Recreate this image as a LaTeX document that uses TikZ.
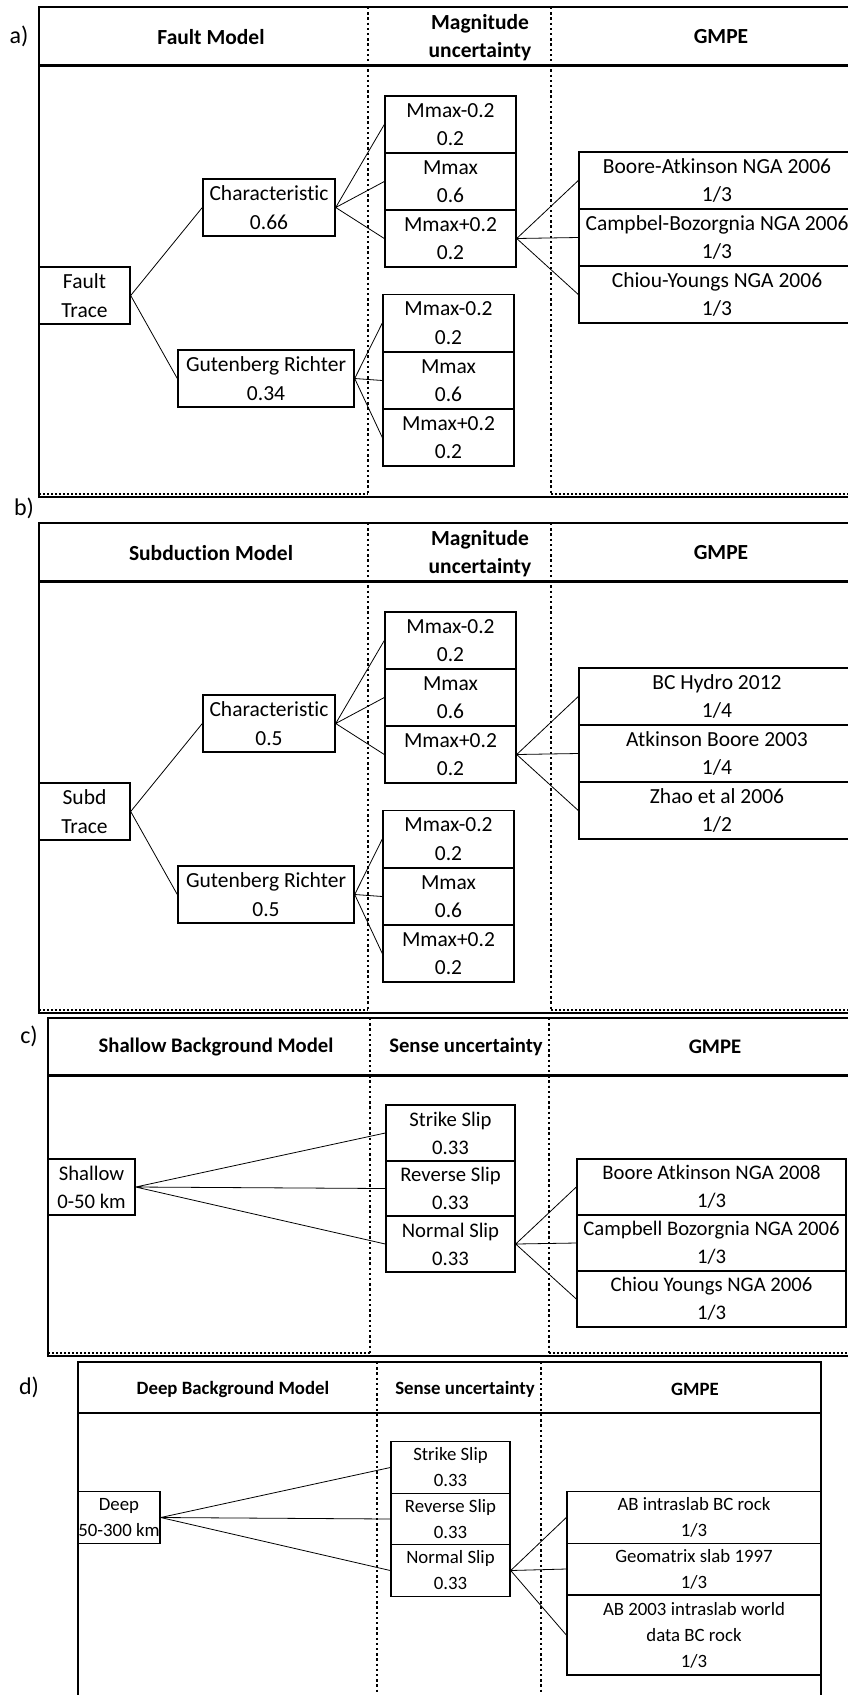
\documentclass[tikz,border=0pt]{standalone}
\usepackage{fontspec}
\setmainfont{Carlito}[Ligatures=NoCommon]

\tikzset{
	box/.style={draw, line width=1.4pt, align=center, inner sep=0pt, minimum width=#1, minimum height=57pt},
	head/.style={align=center, execute at begin node=\bfseries},
	tag/.style={font=\fontsize{24}{24}\selectfont},
	twig/.style={line width=0.8pt},
	colsep/.style={line width=2.6pt, dash pattern=on 2.4pt off 2.8pt},
	rim/.style={line width=2.2pt, dash pattern=on 2pt off 2pt}
}

\begin{document}
\begin{tikzpicture}[x=1pt, y=-1pt, font=\fontsize{21.5}{28.5}\selectfont]
		%%%%% START %%%%%
		\useasboundingbox (0,0) rectangle (848,1695);
		\clip (0,0) rectangle (848,1695);
		
		% a) fault model
		\node[tag] (labA) at (19,36) {a)};
		\draw[line width=1.3pt] (880,7) -- (39,7) -- (39,497) -- (880,497);
		\draw[line width=3pt] (39,65) -- (880,65);
		\draw[rim] (39,494) -- (368,494);
		\draw[rim] (551,494) -- (880,494);
		\draw[colsep] (368,7) -- (368,495);
		\draw[colsep] (551,7) -- (551,495);
		\node[head] (hdA1) at (211,37) {Fault Model};
		\node[head] (hdA2) at (480,37.5) {Magnitude\\uncertainty};
		\node[head] (hdA3) at (721,37) {GMPE};
		
		\node[box=91pt] (trA) at (84.5,295.5) {Fault\\Trace};
		\node[box=132pt] (chA) at (269,207.5) {Characteristic\\0.66};
		\node[box=176pt] (grA) at (266,378.5) {Gutenberg Richter\\0.34};
		\node[box=131pt] (muA1) at (450.5,124.5) {Mmax-0.2\\0.2};
		\node[box=131pt] (muA2) at (450.5,181.5) {Mmax\\0.6};
		\node[box=131pt] (muA3) at (450.5,238.5) {Mmax+0.2\\0.2};
		\node[box=131pt] (muA4) at (448.5,323) {Mmax-0.2\\0.2};
		\node[box=131pt] (muA5) at (448.5,380.5) {Mmax\\0.6};
		\node[box=131pt] (muA6) at (448.5,437.5) {Mmax+0.2\\0.2};
		\node[box=276pt] (gmpeA1) at (717,180.5) {Boore-Atkinson NGA 2006\\1/3};
		\node[box=276pt] (gmpeA2) at (717,237.5) {Campbel-Bozorgnia NGA 2006\\1/3};
		\node[box=276pt] (gmpeA3) at (717,294.5) {Chiou-Youngs NGA 2006\\1/3};
		
		\draw[twig] (trA.east) -- (chA.west) (trA.east) -- (grA.west);
		\draw[twig] (chA.east) -- (muA1.west) (chA.east) -- (muA2.west) (chA.east) -- (muA3.west);
		\draw[twig] (grA.east) -- (muA4.west) (grA.east) -- (muA5.west) (grA.east) -- (muA6.west);
		\draw[twig] (muA3.east) -- (gmpeA1.west) (muA3.east) -- (gmpeA2.west) (muA3.east) -- (gmpeA3.west);
		
		% b) subduction model, same layout one panel lower
		\node[tag] (labB) at (24,508) {b)};
		\begin{scope}[yshift=-516pt]
			\draw[line width=1.3pt] (880,7) -- (39,7) -- (39,497) -- (880,497);
			\draw[line width=3pt] (39,65) -- (880,65);
			\draw[rim] (39,494) -- (368,494);
			\draw[rim] (551,494) -- (880,494);
			\draw[colsep] (368,7) -- (368,495);
			\draw[colsep] (551,7) -- (551,495);
			\node[head] (hdB1) at (211,37) {Subduction Model};
			\node[head] (hdB2) at (480,37.5) {Magnitude\\uncertainty};
			\node[head] (hdB3) at (721,37) {GMPE};
			
			\node[box=91pt] (trB) at (84.5,295.5) {Subd\\Trace};
			\node[box=132pt] (chB) at (269,207.5) {Characteristic\\0.5};
			\node[box=176pt] (grB) at (266,378.5) {Gutenberg Richter\\0.5};
			\node[box=131pt] (muB1) at (450.5,124.5) {Mmax-0.2\\0.2};
			\node[box=131pt] (muB2) at (450.5,181.5) {Mmax\\0.6};
			\node[box=131pt] (muB3) at (450.5,238.5) {Mmax+0.2\\0.2};
			\node[box=131pt] (muB4) at (448.5,323) {Mmax-0.2\\0.2};
			\node[box=131pt] (muB5) at (448.5,380.5) {Mmax\\0.6};
			\node[box=131pt] (muB6) at (448.5,437.5) {Mmax+0.2\\0.2};
			\node[box=276pt] (gmpeB1) at (717,180.5) {BC Hydro 2012\\1/4};
			\node[box=276pt] (gmpeB2) at (717,237.5) {Atkinson Boore 2003\\1/4};
			\node[box=276pt] (gmpeB3) at (717,294.5) {Zhao et al 2006\\1/2};
			
			\draw[twig] (trB.east) -- (chB.west) (trB.east) -- (grB.west);
			\draw[twig] (chB.east) -- (muB1.west) (chB.east) -- (muB2.west) (chB.east) -- (muB3.west);
			\draw[twig] (grB.east) -- (muB4.west) (grB.east) -- (muB5.west) (grB.east) -- (muB6.west);
			\draw[twig] (muB3.east) -- (gmpeB1.west) (muB3.east) -- (gmpeB2.west) (muB3.east) -- (gmpeB3.west);
		\end{scope}
		
		% c) shallow background
		\begin{scope}[font=\fontsize{20.7}{28}\selectfont, box/.append style={minimum height=56pt}]
			\node[tag] (labC) at (29,1036) {c)};
			\draw[line width=1.3pt] (880,1018) -- (48,1018) -- (48,1356) -- (880,1356);
			\draw[line width=3pt] (48,1075) -- (880,1075);
			\draw[rim] (48,1353) -- (370,1353);
			\draw[rim] (549,1353) -- (880,1353);
			\draw[colsep] (370,1018) -- (370,1354);
			\draw[colsep] (549,1018) -- (549,1354);
			\node[head] (hdC1) at (216,1047) {Shallow Background Model};
			\node[head] (hdC2) at (466,1047) {Sense uncertainty};
			\node[head] (hdC3) at (715,1047) {GMPE};
			
			\node[box=87pt] (shC) at (91.5,1187) {Shallow\\0-50 km};
			\node[box=129pt] (snC1) at (450.5,1133) {Strike Slip\\0.33};
			\node[box=129pt] (snC2) at (450.5,1188.5) {Reverse Slip\\0.33};
			\node[box=129pt] (snC3) at (450.5,1244) {Normal Slip\\0.33};
			\node[box=269pt] (gmpeC1) at (711.5,1187) {Boore Atkinson NGA 2008\\1/3};
			\node[box=269pt] (gmpeC2) at (711.5,1243) {Campbell Bozorgnia NGA 2006\\1/3};
			\node[box=269pt] (gmpeC3) at (711.5,1299) {Chiou Youngs NGA 2006\\1/3};
			
			\draw[twig] (shC.east) -- (snC1.west) (shC.east) -- (snC2.west) (shC.east) -- (snC3.west);
			\draw[twig] (snC3.east) -- (gmpeC1.west) (snC3.east) -- (gmpeC2.west) (snC3.east) -- (gmpeC3.west);
		\end{scope}
		
		% d) deep background
		\begin{scope}[font=\fontsize{18.8}{26}\selectfont, box/.append style={minimum height=51.5pt}]
			\node[tag] (labD) at (29,1387) {d)};
			\draw[line width=1.3pt] (78,1710) -- (78,1362) -- (821,1362) -- (821,1710);
			\draw[line width=2.2pt] (78,1413) -- (821,1413);
			\draw[colsep] (377,1362) -- (377,1700);
			\draw[colsep] (541,1362) -- (541,1700);
			\node[head] (hdD1) at (233,1389) {Deep Background Model};
			\node[head] (hdD2) at (465,1389) {Sense uncertainty};
			\node[head] (hdD3) at (695,1389) {GMPE};
			
			\node[box=82pt] (dpD) at (119,1517.5) {Deep\\50-300 km};
			\node[box=119pt] (snD1) at (450.5,1467.5) {Strike Slip\\0.33};
			\node[box=119pt] (snD2) at (450.5,1519) {Reverse Slip\\0.33};
			\node[box=119pt] (snD3) at (450.5,1570.5) {Normal Slip\\0.33};
			\node[box=254pt] (gmpeD1) at (694,1517.5) {AB intraslab BC rock\\1/3};
			\node[box=254pt] (gmpeD2) at (694,1569) {Geomatrix slab 1997\\1/3};
			\node[box=254pt, minimum height=80pt] (gmpeD3) at (694,1635) {AB 2003 intraslab world\\data BC rock\\1/3};
			
			\draw[twig] (dpD.east) -- (snD1.west) (dpD.east) -- (snD2.west) (dpD.east) -- (snD3.west);
			\draw[twig] (snD3.east) -- (gmpeD1.west) (snD3.east) -- (gmpeD2.west) (snD3.east) -- (gmpeD3.west);
		\end{scope}
		
		%%%%% END %%%%%
\end{tikzpicture}
\end{document}
